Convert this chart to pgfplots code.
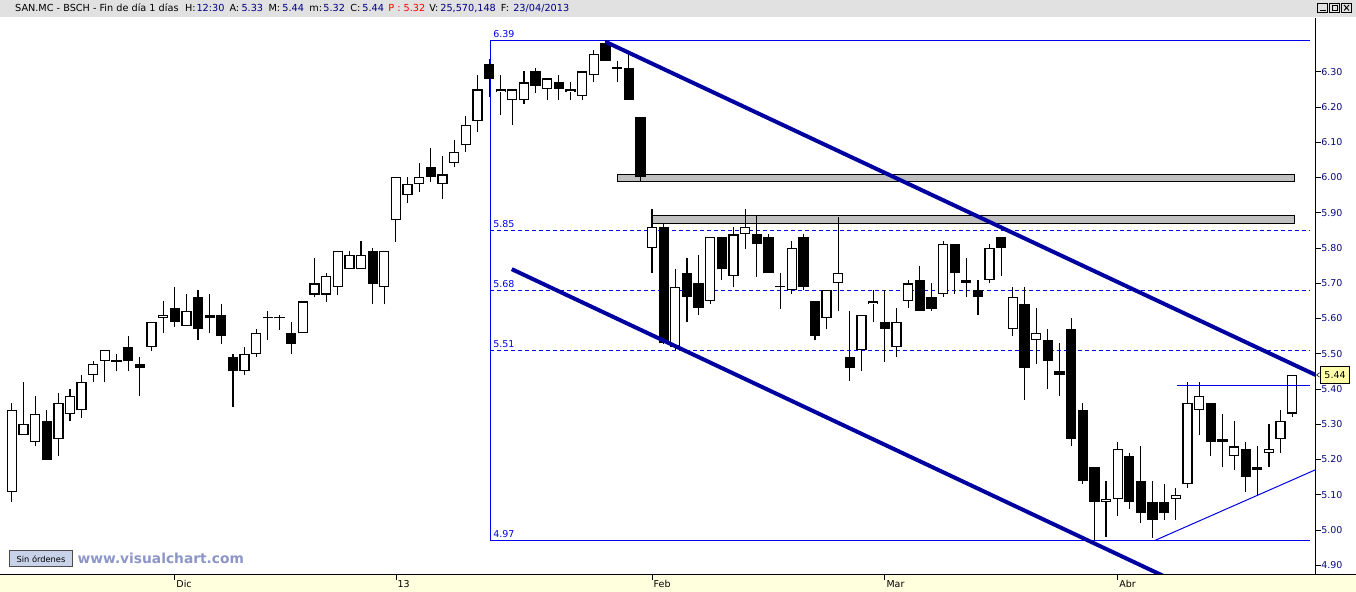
\documentclass[border=0pt]{standalone}
\usepackage{fontspec}
\setmainfont{DejaVu Sans}
\usepackage{pgfplots}
\pgfplotsset{compat=1.18}
\usepackage{pgfplotstable}

\definecolor{chan}{RGB}{0,0,160}
\definecolor{lvl}{RGB}{0,0,235}
\definecolor{axtxt}{RGB}{10,10,130}
\definecolor{hdrbg}{RGB}{225,225,225}
\definecolor{band}{RGB}{255,255,222}
\definecolor{zone}{RGB}{192,192,192}
\definecolor{wm}{RGB}{140,150,200}
\definecolor{btn}{RGB}{200,210,232}
\definecolor{tag}{RGB}{255,255,170}
\definecolor{val}{RGB}{0,0,128}

% Daily candles, SAN.MC: index, open, high, low, close
% rising sessions (close >= open)
\pgfplotstableread{
i o h l c
0 5.108 5.361 5.079 5.340
1 5.270 5.420 5.270 5.301
2 5.250 5.381 5.237 5.329
4 5.258 5.389 5.209 5.360
5 5.329 5.401 5.308 5.380
6 5.340 5.440 5.319 5.420
7 5.440 5.480 5.419 5.471
8 5.479 5.511 5.419 5.511
9 5.478 5.500 5.450 5.481
12 5.519 5.590 5.509 5.590
13 5.601 5.650 5.558 5.610
15 5.579 5.670 5.579 5.621
20 5.451 5.520 5.439 5.499
21 5.499 5.571 5.490 5.559
22 5.600 5.622 5.538 5.603
23 5.600 5.610 5.568 5.603
25 5.559 5.649 5.559 5.649
26 5.668 5.772 5.660 5.700
27 5.668 5.730 5.648 5.720
28 5.689 5.791 5.668 5.791
29 5.740 5.791 5.740 5.780
30 5.740 5.820 5.740 5.780
32 5.689 5.791 5.640 5.791
33 5.878 6.001 5.818 6.001
34 5.949 6.001 5.929 5.981
35 5.981 6.041 5.960 6.001
37 5.981 6.061 5.940 6.009
38 6.041 6.107 6.029 6.072
39 6.092 6.175 6.073 6.149
40 6.160 6.291 6.130 6.250
42 6.242 6.291 6.178 6.250
43 6.219 6.250 6.150 6.250
44 6.219 6.301 6.209 6.270
46 6.250 6.281 6.219 6.281
48 6.242 6.270 6.219 6.250
49 6.230 6.301 6.219 6.301
50 6.290 6.362 6.270 6.350
52 6.309 6.330 6.270 6.312
55 5.800 5.910 5.729 5.859
57 5.520 5.740 5.509 5.689
60 5.649 5.831 5.640 5.831
62 5.720 5.859 5.688 5.839
63 5.839 5.910 5.798 5.859
66 5.688 5.729 5.628 5.691
67 5.681 5.819 5.669 5.800
70 5.601 5.681 5.569 5.681
71 5.700 5.889 5.620 5.729
73 5.511 5.610 5.450 5.610
74 5.641 5.681 5.589 5.649
76 5.519 5.630 5.491 5.590
77 5.649 5.709 5.630 5.700
80 5.669 5.819 5.661 5.811
84 5.709 5.811 5.700 5.800
86 5.570 5.689 5.550 5.661
88 5.539 5.630 5.471 5.559
94 5.080 5.139 4.980 5.088
95 5.088 5.250 5.040 5.230
100 5.088 5.119 5.029 5.100
101 5.131 5.420 5.119 5.360
102 5.340 5.420 5.270 5.380
105 5.210 5.310 5.169 5.237
108 5.219 5.301 5.179 5.230
109 5.258 5.340 5.219 5.309
110 5.330 5.440 5.320 5.440
}\upcandles

% falling sessions (close < open)
\pgfplotstableread{
i o h l c
3 5.309 5.340 5.198 5.198
10 5.519 5.550 5.450 5.479
11 5.471 5.491 5.379 5.459
14 5.630 5.690 5.577 5.589
16 5.661 5.681 5.538 5.569
17 5.610 5.670 5.558 5.600
18 5.610 5.642 5.529 5.549
19 5.491 5.500 5.348 5.450
24 5.559 5.590 5.498 5.529
31 5.791 5.800 5.640 5.699
36 6.030 6.084 5.988 6.000
41 6.321 6.335 6.229 6.280
45 6.301 6.311 6.241 6.260
47 6.270 6.291 6.219 6.250
51 6.381 6.390 6.330 6.330
53 6.310 6.350 6.219 6.219
54 6.171 6.171 5.988 6.001
56 5.859 5.870 5.527 5.530
58 5.729 5.771 5.589 5.660
59 5.700 5.781 5.609 5.630
61 5.831 5.831 5.709 5.739
64 5.839 5.891 5.719 5.810
65 5.831 5.839 5.728 5.728
68 5.831 5.839 5.681 5.688
69 5.649 5.649 5.538 5.549
72 5.491 5.620 5.424 5.459
75 5.590 5.681 5.478 5.570
78 5.709 5.749 5.621 5.621
79 5.661 5.700 5.621 5.628
81 5.811 5.811 5.669 5.729
82 5.709 5.771 5.661 5.700
83 5.681 5.709 5.609 5.661
85 5.831 5.831 5.720 5.800
87 5.641 5.689 5.369 5.459
89 5.539 5.570 5.400 5.479
90 5.451 5.530 5.380 5.440
91 5.570 5.601 5.238 5.258
92 5.340 5.360 5.131 5.139
93 5.179 5.179 4.973 5.080
96 5.210 5.218 5.060 5.080
97 5.139 5.238 5.020 5.048
98 5.080 5.139 4.978 5.029
99 5.080 5.131 5.029 5.048
103 5.360 5.360 5.209 5.250
104 5.258 5.330 5.178 5.250
106 5.230 5.250 5.108 5.151
107 5.179 5.238 5.100 5.170
}\downcandles

\begin{document}
\begin{tikzpicture}
% window frame: header strip and time-axis strip
\begin{scope}[x=1pt,y=-1pt]
\useasboundingbox (0,0) rectangle (1356,592);
\fill[white] (0,0) rectangle (1356,592);
\fill[hdrbg] (0,0) rectangle (1356,17);
\fill[band] (0,575) rectangle (1356,592);
\end{scope}

\begin{axis}[
  at={(0pt,-575pt)}, anchor=south west,
  scale only axis, width=1316pt, height=557pt,
  xmin=-0.97, xmax=112.0, ymin=4.8736, ymax=6.4524,
  axis x line*=bottom, axis y line*=right,
  axis line style={black, line width=1pt},
  tick align=outside, major tick length=5pt,
  tick style={black, line width=0.8pt},
  xtick={14,33,55,75,95},
  xticklabels={Dic,13,Feb,Mar,Abr},
  xticklabel style={anchor=north west, inner sep=0pt, xshift=1.5pt, yshift=-1pt, font=\fontsize{9.5}{10}\selectfont},
  ytick={4.9,5.0,5.1,5.2,5.3,5.4,5.5,5.6,5.7,5.8,5.9,6.0,6.1,6.2,6.3},
  yticklabel style={anchor=west, inner sep=0pt, xshift=0.5pt, text=axtxt, font=\fontsize{9.5}{10}\selectfont,
    /pgf/number format/.cd, fixed, fixed zerofill, precision=2, assume math mode=true},
]
% resistance/support zones
\addplot[fill=zone, draw=black, line width=0.9pt] coordinates {(52,5.988)(110.2,5.988)(110.2,6.010)(52,6.010)} -- cycle;
\addplot[fill=zone, draw=black, line width=0.9pt] coordinates {(55,5.871)(110.2,5.871)(110.2,5.893)(55,5.893)} -- cycle;

% range box and intermediate levels
\addplot[lvl, line width=0.9pt] coordinates {(41.09,4.97)(41.09,6.39)(111.5,6.39)};
\addplot[lvl, line width=0.9pt] coordinates {(41.09,4.97)(111.5,4.97)};
\addplot[lvl, line width=0.9pt, dash pattern=on 4pt off 3pt] coordinates {(41.09,5.85)(111.5,5.85)};
\addplot[lvl, line width=0.9pt, dash pattern=on 4pt off 3pt] coordinates {(41.09,5.68)(111.5,5.68)};
\addplot[lvl, line width=0.9pt, dash pattern=on 4pt off 3pt] coordinates {(41.09,5.51)(111.5,5.51)};

% wicks
\addplot[black, line width=1.1pt, quiver={u=0, v=\thisrow{h}-\thisrow{l}}] table[x=i, y=l] \upcandles;
\addplot[black, line width=1.1pt, quiver={u=0, v=\thisrow{h}-\thisrow{l}}] table[x=i, y=l] \downcandles;
% falling bodies
\addplot[black, line width=10.3pt, quiver={u=0, v=\thisrow{o}-\thisrow{c}}] table[x=i, y=c] \downcandles;
% rising bodies: black outline, white inside
\addplot[black, line width=10.3pt, quiver={u=0, v=\thisrow{c}-\thisrow{o}}] table[x=i, y=o] \upcandles;
\addplot[white, line width=7.7pt, quiver={u=0, v={max(\thisrow{c}-\thisrow{o}-0.0074,0)}}] table[x=i, y expr=\thisrow{o}+0.0037] \upcandles;

% trend channel
\addplot[chan, line width=4pt] coordinates {(51.0,6.385)(112.0,5.440)};
\addplot[chan, line width=4pt] coordinates {(42.95,5.740)(104.0,4.791)};
% short-term lines
\addplot[lvl, line width=1pt] coordinates {(100.1,5.409)(111.5,5.409)};
\addplot[lvl, line width=1pt] coordinates {(98.17,4.970)(112.0,5.171)};

% level labels
\foreach \v in {6.39,5.85,5.68,5.51,4.97}{
  \edef\tmp{\noexpand\node[anchor=south west, inner sep=0pt, text=lvl, font=\noexpand\fontsize{9.5}{10}\noexpand\selectfont] at (axis cs:41.35,\v) [yshift=2.5pt] {\v};}
  \tmp
}
\end{axis}

\begin{scope}[x=1pt,y=-1pt]
\draw[black, line width=1pt] (0,575) -- (1356,575);
% header line
\begin{scope}[every node/.style={anchor=base west, inner sep=0pt, font=\fontsize{9.7}{11}\selectfont}]
\node at (14.5,12) {SAN.MC - BSCH - Fin de día 1 días};
\node at (184.5,12) {H:}; \node[text=val] at (196,12) {12:30};
\node at (229,12) {A:}; \node[text=val] at (241,12) {5.33};
\node at (268,12) {M:}; \node[text=val] at (282,12) {5.44};
\node at (309,12) {m:}; \node[text=val] at (323,12) {5.32};
\node at (350,12) {C:}; \node[text=val] at (362,12) {5.44};
\node[text=red] at (388,12) {P : 5.32};
\node at (429,12) {V:}; \node[text=val] at (440,12) {25,570,148};
\node at (500.6,12) {F:}; \node[text=val] at (513,12) {23/04/2013};
\end{scope}
% window buttons
\foreach \bx in {1318,1330,1342}{\draw[black, fill=hdrbg, line width=0.6pt] (\bx,3) rectangle ++(10,9);}
\draw[black, line width=1pt] (1320,10.5) -- (1326,10.5);
\draw[black, line width=0.7pt] (1332.5,5) rectangle (1337.5,10.5);
\draw[black, line width=0.9pt] (1344.5,5) -- (1349.5,10.5) (1349.5,5) -- (1344.5,10.5);
% last price tag
\draw[black, fill=tag, line width=0.7pt] (1321,367) rectangle (1350,384);
\node[anchor=center, inner sep=0pt, font=\fontsize{9.5}{10}\selectfont] at (1335.5,375.5) {5.44};
\draw[black, line width=0.6pt] (1320,373) -- (1317,375.2) -- (1320,377.4);
% footer
\draw[black!70, fill=btn, line width=0.7pt] (9,551) rectangle (72,567);
\node[anchor=center, inner sep=0pt, font=\fontsize{8.3}{9}\selectfont] at (40.5,559.3) {Sin órdenes};
\node[anchor=base west, inner sep=0pt, text=wm, font=\bfseries\fontsize{13.8}{14}\selectfont] at (77,563.5) {www.visualchart.com};
\end{scope}
\end{tikzpicture}
\end{document}
